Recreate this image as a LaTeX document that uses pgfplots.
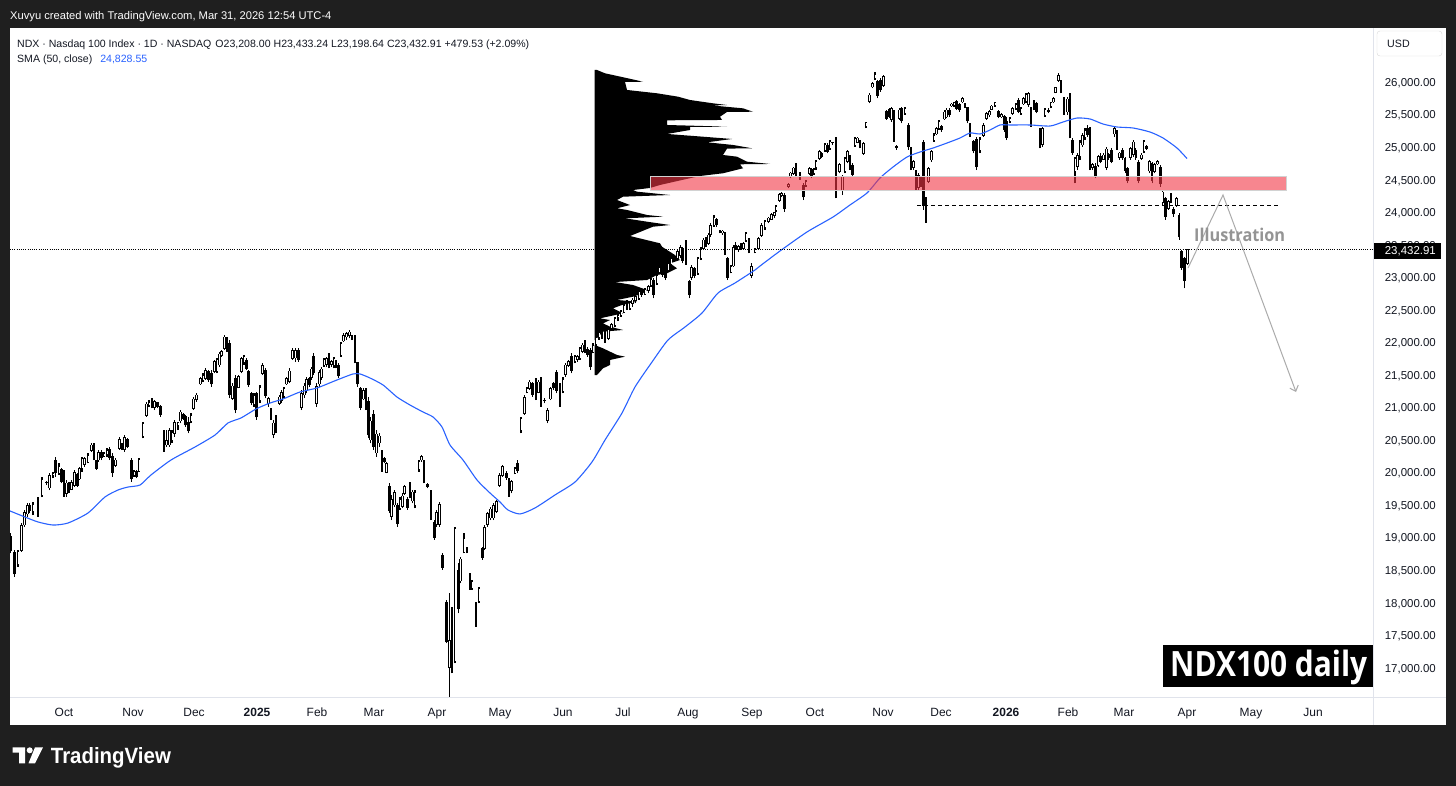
\documentclass[border=0pt]{standalone}
\usepackage{graphicx}
\usepackage{pgfplots}
\pgfplotsset{compat=1.18}
\usepackage{pgfplotstable}
\usepackage{fontspec}
\setmainfont{Liberation Sans}
\newfontfamily\osans{Open Sans}
\usetikzlibrary{arrows.meta}
\definecolor{framebg}{HTML}{1F1F1F}
\definecolor{tvblue}{HTML}{2962FF}
\definecolor{tvred}{HTML}{F23645}
\definecolor{tvtext}{HTML}{131722}
\definecolor{sep}{HTML}{E0E3EB}

\pgfplotstableread{
x o h l c
10.7 19030 19069 18762 18800
14.7 18790 18813 18404 18440
18 18580 18813 18557 18790
21.3 18800 19223 18790 19190
24.7 19190 19428 19172 19400
27.3 19360 19530 19325 19500
29.7 19510 19530 19377 19410
33 19400 19556 19351 19520
38 19610 19633 19325 19350
42 19650 19940 19620 19900
46.3 19840 19870 19810 19850
49.7 19760 19991 19735 19960
53 19960 20017 19914 19990
55.7 20200 20247 19940 19990
59 19990 20145 19966 20100
61.3 20060 20068 19838 19860
64 19990 20043 19633 19680
66.3 19680 19889 19633 19850
69 19840 19863 19684 19710
71.3 19740 19889 19735 19860
74.7 19800 20043 19786 20010
77.3 19980 19991 19786 19800
79.7 19900 20094 19889 20070
82 20060 20247 20017 20230
84.7 20120 20247 20094 20220
88 20160 20299 20145 20270
91.3 20340 20452 20324 20430
94 20430 20452 20196 20230
96.3 20190 20196 20043 20060
98.7 20190 20350 20171 20320
101.3 20320 20350 20196 20220
104 20250 20324 20247 20300
107 20270 20376 20247 20350
109.7 20370 20401 20196 20230
112.3 20260 20299 19940 20000
115.3 20110 20222 20094 20200
119.7 20370 20555 20350 20520
122 20440 20452 20350 20370
124.7 20350 20580 20324 20550
127.3 20520 20529 20376 20400
131.3 20200 20222 19863 19900
134 19960 20043 19940 20020
136.3 20020 20043 19914 19940
139 20020 20222 20017 20200
143 20560 20785 20529 20760
146.3 20870 21093 20862 21060
149 21030 21118 21016 21090
152 21100 21144 20990 21020
154.7 21000 21118 20964 21100
157.3 21080 21093 20990 21010
160.3 21030 21041 20862 20890
164 20640 20657 20324 20360
166.7 20420 20657 20401 20500
169.3 20420 20683 20401 20650
172 20500 20657 20452 20620
174.7 20600 20811 20555 20780
178 20720 20785 20657 20770
180.7 20790 20964 20760 20940
183.7 20900 20913 20811 20830
185.7 20870 20887 20708 20730
188.3 20780 20862 20606 20640
191 20790 20913 20760 20890
193.7 20980 21169 20964 21140
196.7 21120 21221 21093 21200
200.3 21360 21477 21349 21450
203 21410 21528 21400 21500
205.7 21440 21605 21426 21580
208.3 21560 21579 21400 21420
211.3 21540 21579 21323 21360
214.3 21550 21733 21528 21710
217 21560 21758 21528 21740
219.7 21650 21861 21630 21830
221.7 21800 21887 21784 21870
224.3 21900 22117 21887 22090
227 22070 22091 21861 21890
229.7 22000 22040 21144 21200
232.3 21140 21374 21118 21340
235.7 21450 21502 20913 20960
238.7 21300 21502 21297 21480
241.3 21550 21784 21528 21760
244 21690 21810 21656 21790
246.3 21740 21758 21579 21600
248.7 21560 21579 21323 21350
251.3 21220 21246 21041 21070
254 21040 21221 21016 21190
256.7 21220 21246 20811 20850
260 21100 21349 21067 21310
262.7 21520 21682 21502 21650
265.7 21580 21605 21144 21180
268.3 21050 21169 21016 21150
271 20970 20990 20811 20840
273.3 20580 20811 20529 20770
276 20860 20887 20606 20640
279.3 21060 21195 21041 21170
281.7 21100 21272 21067 21240
284 21170 21323 21144 21300
286.7 21360 21477 21349 21450
289.3 21400 21605 21374 21570
292.7 21750 21912 21733 21880
295.3 21760 21912 21707 21880
298.3 21890 21912 21707 21730
301.7 21000 21272 20964 21220
304.3 21190 21374 21144 21340
306.7 21260 21477 21221 21440
309.3 21450 21477 21323 21350
311.7 21460 21630 21426 21600
313.7 21800 21835 21502 21540
316.7 21060 21374 21016 21330
319.3 21360 21579 21323 21550
321.7 21460 21630 21426 21600
324 21650 21758 21630 21740
326.7 21660 21784 21630 21760
329 21810 21835 21605 21640
331.7 21660 21733 21630 21720
334 21640 21784 21605 21760
336 21720 21733 21605 21620
338.3 21660 21682 21451 21480
341 21800 22015 21784 21990
343.7 22020 22143 22015 22120
346.7 22080 22168 22040 22150
349.3 22100 22194 22066 22170
352 22110 22117 22040 22060
355 22090 22117 21682 21720
357.7 21700 21707 21323 21360
360.7 21300 21323 20964 21000
363.3 21130 21297 21118 21270
366 21280 21297 20964 21000
368.3 21100 21169 20529 20580
370.7 20500 20862 20452 20800
373.3 20900 20964 20350 20400
376.7 20300 20657 20247 20600
379.3 20450 20606 20401 20570
382 20320 20350 20017 20060
384.3 20220 20247 20145 20160
386.7 20000 20171 19991 20150
389.3 19800 19838 19377 19420
391.7 19320 19658 19274 19600
394.3 19500 19735 19479 19700
397.3 19500 19530 19172 19220
400 19450 19633 19428 19600
402.3 19480 19684 19454 19650
404.3 19680 19812 19658 19790
407.3 19600 19633 19428 19460
410 19820 19863 19607 19640
412.3 19560 19735 19530 19710
415 19500 19735 19454 19700
419 20050 20196 20017 20170
421.7 20190 20273 20171 20250
424 20170 20196 19838 19880
427.7 19830 19838 19761 19780
431 19720 19735 19274 19320
434.3 19250 19274 18967 19000
436.7 19200 19428 19172 19400
439.3 19200 19556 19172 19520
442.7 18740 18762 18506 18540
446.7 18020 18045 17379 17400
449.3 17000 18147 16560 17430
452 17800 17943 16918 17090
455 17100 19170 17072 19140
458.3 18500 18608 17840 17900
460.7 18330 18711 18301 18680
464 18770 19069 18762 19000
467 18830 18864 18762 18800
470 18440 18455 18199 18240
472 18220 18353 18199 18330
476 17990 18020 17635 17680
479 18020 18250 17994 18230
482.3 18850 18864 18660 18690
484.7 18830 19197 18813 19160
487.3 19200 19402 19172 19380
490.7 19300 19479 19274 19450
493.7 19300 19530 19274 19500
496.7 19400 19582 19380 19560
499.3 19800 19991 19786 19960
502.3 19950 20119 19940 20100
506.7 20000 20020 19889 19920
509 19900 19914 19633 19700
511.7 19720 19889 19684 19870
515 19990 20094 19980 20070
517.7 20150 20196 19991 20020
521 20650 20862 20606 20830
524.3 20900 21195 20888 21160
527 21230 21323 21220 21300
529.3 21290 21426 21272 21400
532.3 21380 21400 21169 21200
536 21420 21451 21118 21150
538.3 21230 21426 21220 21400
541 21450 21477 21016 21060
544.3 21100 21144 21067 21120
547.7 20800 20990 20759 20960
550.7 21130 21323 21118 21300
553.3 21380 21400 21272 21300
556.3 21550 21579 21220 21260
560 21300 21375 21016 21060
563 21250 21477 21220 21440
565.7 21500 21682 21477 21660
568.3 21640 21733 21630 21710
571.7 21800 21835 21528 21570
575 21700 21810 21682 21790
577.3 21730 21810 21707 21790
580 21760 21938 21733 21910
582.3 21860 21989 21835 21970
585 22000 22040 21835 21870
587.7 21900 21938 21784 21810
590.3 21880 21912 21579 21620
593 21840 21989 21835 21960
596 21960 22100 21940 22080
599 22080 22180 22040 22160
602 22160 22200 22060 22100
605 22100 22180 22000 22030
608.3 22060 22219 22040 22200
611.7 22210 22296 22194 22280
615 22260 22399 22245 22380
618 22380 22450 22330 22420
621 22420 22501 22399 22480
624 22460 22604 22450 22580
627 22600 22655 22501 22520
630 22520 22640 22500 22620
632.7 22600 22680 22553 22660
635.3 22640 22732 22604 22710
639 22680 22808 22655 22790
641.7 22800 22834 22706 22730
645 22740 22834 22732 22820
648.3 22800 22885 22757 22870
651 22870 22988 22860 22970
653.7 22960 22988 22680 22730
657 22900 23065 22885 23040
659.7 23070 23167 23065 23150
662.3 23180 23193 23013 23040
665.7 23170 23193 22962 23000
668.3 23100 23244 23090 23220
671 23190 23321 23167 23300
674.3 23300 23346 23269 23320
677.7 23290 23423 23269 23400
680.3 23330 23500 23295 23470
682.7 23460 23474 23218 23260
686 23500 23577 23193 23230
689.3 22940 22962 22680 22730
691.7 22990 23193 22962 23160
694.3 23150 23167 22988 23020
698 23060 23321 23039 23300
701 23290 23474 23269 23450
703.3 23440 23602 23423 23580
706 23600 23628 23474 23500
708.3 23520 23679 23500 23660
710.7 23660 23833 23628 23810
714 23800 23961 23782 23930
716.7 23900 23910 23782 23800
720 23720 23730 23679 23700
722.7 23680 23730 23654 23720
725 23700 23705 23346 23380
727.7 23300 23321 22962 23000
731 23080 23193 23065 23170
733.7 23170 23500 23167 23470
735.7 23500 23551 23423 23440
738.3 23420 23500 23398 23480
741 23510 23526 23423 23440
743.3 23440 23551 23430 23530
746 23560 23705 23551 23680
749 23580 23602 23372 23400
751.7 23030 23218 22988 23180
755 23380 23449 23372 23430
758.3 23440 23628 23423 23600
761.7 23640 23833 23628 23810
765 23760 23884 23730 23860
768.3 23850 23935 23833 23920
771.7 23890 23986 23884 23970
774.3 23950 24012 23910 24000
776 24030 24114 24012 24100
779.3 24180 24294 24166 24280
781.7 24250 24319 24230 24300
784.3 24270 24294 24012 24050
788.3 24390 24447 24371 24430
790.7 24540 24627 24524 24610
793.3 24590 24704 24576 24690
796 24730 24755 24550 24580
800 24600 24627 24499 24520
803.3 24420 24447 24191 24230
806 24410 24499 24396 24480
809.3 24590 24704 24576 24680
811.7 24660 24678 24524 24550
814 24590 24678 24576 24660
816 24680 24806 24652 24790
819.3 24820 24960 24806 24940
821.7 24920 24934 24832 24850
825 24950 25062 24934 25040
827.3 25040 25062 24908 24930
830 24980 25113 24960 25100
832.7 25080 25088 25036 25060
836 25100 25165 24217 24260
839.3 24620 24755 24601 24740
842.3 24330 24576 24268 24560
845 24620 24857 24601 24830
847.3 24780 24960 24755 24940
850 24860 24883 24652 24680
852.7 24730 24755 24550 24580
855 25030 25165 25011 25140
857.3 25070 25165 25062 25150
860 25100 25113 24985 25010
863.3 24900 25088 24883 25060
866 25310 25395 25293 25380
869.3 25700 25830 25677 25810
872.3 25920 26010 25907 25990
875 26050 26163 26035 26120
877.7 26020 26035 25753 25790
880.7 26040 26061 25856 25880
883.3 25950 26112 25933 26090
886.7 25560 25574 25421 25440
889.3 25590 25600 25446 25470
891.7 25420 25625 25395 25600
894 25560 25574 25088 25120
896.7 25020 25036 24960 24990
899.3 25440 25600 25421 25580
901.7 25600 25625 25369 25400
905 25510 25625 25498 25600
908.3 25350 25369 24960 25000
911 24990 25011 24652 24690
913.3 24680 24806 24652 24790
916 24640 24652 24345 24380
918.3 24380 24601 24345 24570
921 24520 24550 24396 24420
923.3 25080 25113 24038 24100
926 24230 24243 23843 24160
928.7 24470 24704 24447 24680
931.3 24800 24960 24780 24940
934 25100 25216 25088 25190
936.7 25200 25318 25190 25300
939 25280 25421 25267 25400
941.7 25330 25344 25241 25260
944.3 25430 25574 25421 25550
946.7 25460 25600 25446 25580
949.3 25580 25600 25472 25490
951.7 25630 25677 25625 25670
954 25640 25702 25625 25690
956.7 25710 25728 25574 25590
959.3 25660 25677 25549 25570
962.3 25690 25779 25677 25760
965 25670 25677 25600 25610
967.7 25620 25625 25369 25400
970 25360 25369 25165 25190
973.3 25100 25113 24908 24940
976.7 25130 25165 24652 24700
980 24950 25165 24908 25130
983.3 25180 25369 25165 25340
986.7 25440 25549 25421 25530
989.3 25490 25574 25472 25560
991.7 25580 25651 25574 25640
995 25640 25702 25625 25690
998.3 25560 25574 25446 25470
1001.7 25460 25523 25446 25510
1004.3 25480 25498 25241 25270
1006.7 25400 25472 25113 25150
1010 25390 25472 25369 25450
1012.7 25520 25625 25498 25600
1016 25590 25677 25574 25660
1018.3 25730 25753 25523 25550
1021 25520 25625 25498 25600
1023.3 25660 25779 25651 25760
1026 25700 25830 25677 25810
1028.7 25650 25856 25625 25830
1031 25600 25625 25318 25350
1034 25710 25728 25574 25600
1036.7 25680 25702 25523 25540
1040 25270 25293 24985 25020
1042.7 25040 25318 25011 25290
1045 25480 25600 25472 25580
1048.3 25580 25600 25523 25540
1051 25620 25702 25600 25690
1053.3 25690 25779 25677 25760
1055.3 25840 25933 25830 25920
1058.3 26020 26138 26010 26110
1061 26020 26035 25830 25860
1064 25760 25779 25498 25530
1067.3 25540 25779 25498 25750
1070 25800 25830 25139 25190
1072.7 25120 25139 24883 24920
1075 24630 24857 24447 24830
1077.7 24700 24908 24652 24880
1080 24850 25113 24806 25080
1082.7 25030 25216 25011 25190
1085 25150 25293 25113 25270
1087.3 25300 25344 25165 25190
1090 25230 25318 24652 24700
1092.7 24680 24755 24652 24740
1095.4 24720 24755 24524 24560
1098.1 24720 24883 24704 24860
1100.8 24870 24908 24755 24780
1103.5 24810 24908 24806 24890
1106.2 24690 25011 24652 24980
1108.9 24900 24908 24806 24830
1111.6 24960 24985 24755 24780
1114.3 25200 25318 25165 25300
1117 25250 25267 24960 25000
1119.7 24840 24934 24806 24920
1122.4 24960 24985 24806 24830
1125.1 24830 24857 24601 24640
1127.8 24680 24704 24447 24490
1130.5 24840 25011 24806 24990
1133.2 24880 25113 24857 25090
1135.9 24960 24985 24806 24830
1138.6 24780 24806 24447 24490
1141.3 24820 24908 24806 24890
1144 24930 25113 24908 25090
1146.7 25020 25036 24960 24980
1149.4 24630 24806 24601 24790
1152.1 24760 24781 24447 24480
1154.8 24620 24755 24601 24740
1157.5 24740 24806 24730 24790
1160.2 24700 24729 24396 24430
1162.9 24150 24345 24114 24320
1165.6 24220 24243 23884 23930
1168.3 24050 24191 24038 24170
1171 24270 24294 24140 24170
1173.7 24060 24088 23935 23970
1176.4 24100 24243 24088 24220
1179.1 23960 23986 23577 23620
1181.8 23400 23423 23116 23150
1184.5 23300 23321 22834 22953
1187.2 23208 23433 23199 23433
}\candles

\begin{document}
\begin{tikzpicture}[x=1bp,y=1bp]
\useasboundingbox (0bp,0bp) rectangle (1456bp,786bp);
\fill[framebg] (0bp,0bp) rectangle (1456bp,786bp);
\fill[white] (10bp,61bp) rectangle (1446bp,758bp);
\begin{axis}[
  at={(10bp,88bp)}, anchor=south west,
  width=1363bp, height=670bp, scale only axis,
  xmin=10, xmax=1373, ymin=16539.1, ymax=26834.4,
  scaled y ticks=false, scaled x ticks=false,
  axis line style={draw=none},
  major tick length=0pt, tick style={draw=none},
  ytick={17000,17500,18000,18500,19000,19500,20000,20500,21000,21500,22000,22500,23000,23500,24000,24500,25000,25500,26000},
  yticklabels={{17,000.00},{17,500.00},{18,000.00},{18,500.00},{19,000.00},{19,500.00},{20,000.00},{20,500.00},{21,000.00},{21,500.00},{22,000.00},{22,500.00},{23,000.00},{23,500.00},{24,000.00},{24,500.00},{25,000.00},{25,500.00},{26,000.00}},
  yticklabel pos=right,
  yticklabel style={anchor=base east, xshift=63bp, yshift=-4.15bp, inner sep=0pt, font=\fontsize{11.5}{13}\selectfont, text=tvtext},
  xtick={64,133,194,257,317,374,437,500,563,623,688,752,815,883,941,1006,1068,1124,1187,1251,1313},
  xticklabels={Oct,Nov,Dec,\textbf{2025},Feb,Mar,Apr,May,Jun,Jul,Aug,Sep,Oct,Nov,Dec,\textbf{2026},Feb,Mar,Apr,May,Jun},
  xticklabel style={anchor=base, yshift=-18.7bp, inner sep=0pt, font=\fontsize{12}{14}\selectfont, text=tvtext},
]
% volume profile (sawtooth outline)
\addplot[fill=black, draw=none] coordinates {(594.7,26189) (597,26189) (605,26138) (625,26071) (643,26009) (625,26005) (627,25882) (657,25831) (678,25779) (690,25728) (713,25677) (727,25651) (712,25644) (743,25600) (753,25548) (727,25544) (720,25471) (722,25421) (667,25416) (667,25344) (727,25318) (690,25313) (690,25267) (667,25206) (703,25164) (732,25129) (707,25078) (733,25037) (752,24986) (727,24981) (723,24883) (737,24857) (747,24780) (770,24745) (740,24740) (743,24679) (723,24602) (700,24560) (682,24499) (660,24422) (650,24376) (633,24345) (637,24319) (670,24268) (623,24242) (617,24191) (630,24114) (617,24064) (627,24038) (647,23961) (663,23935) (625,23910) (647,23858) (670,23807) (653,23781) (630,23638) (660,23526) (662,23474) (667,23423) (675,23346) (680,23269) (670,23218) (677,23142) (667,23065) (657,23039) (647,22962) (615,22931) (633,22885) (647,22808) (643,22757) (633,22705) (617,22655) (637,22629) (622,22578) (613,22527) (623,22450) (600,22373) (610,22347) (603,22296) (610,22245) (623,22194) (603,22168) (600,22117) (595,22040) (594.7,22040)};
\addplot[fill=black, draw=none] coordinates {(594.7,21963) (603,21912) (617,21810) (625,21784) (610,21733) (610,21656) (603,21605) (597,21502) (594.7,21502)};
% candles: wicks
\addplot[draw=none, mark=none, error bars/.cd, y dir=plus, y explicit, error mark=none, error bar style={line width=1.1bp, line cap=butt, draw=black, solid}]
  table[x=x, y=l, y error plus expr={\thisrow{h}-\thisrow{l}}] {\candles};
% bodies
\addplot[draw=none, mark=none, error bars/.cd, y dir=plus, y explicit, error mark=none, error bar style={line width=2.7bp, line cap=butt, draw=black, solid}]
  table[x=x, y expr={min(\thisrow{o},\thisrow{c})}, y error plus expr={max(abs(\thisrow{c}-\thisrow{o}),15)}] {\candles};
% hollow interior for up candles
\addplot[draw=none, mark=none, error bars/.cd, y dir=plus, y explicit, error mark=none, error bar style={line width=1.0bp, line cap=butt, draw=white, solid}]
  table[x=x, y expr={\thisrow{o}+11}, y error plus expr={max(\thisrow{c}-\thisrow{o}-22,0)}] {\candles};
% SMA 50
\addplot[tvblue, line width=1.1bp, smooth, tension=0.4] coordinates {(10,19413) (25,19320) (38,19244) (53,19197) (68,19228) (88,19382) (105,19628) (118,19735) (128,19781) (140,19812) (151,19966) (171,20196) (195,20396) (215,20580) (228,20765) (241,20842) (256,20980) (270,21072) (283,21134) (300,21241) (317,21303) (337,21426) (353,21518) (360,21518) (370,21456) (383,21349) (397,21164) (410,21041) (423,20934) (433,20857) (442,20703) (450,20427) (463,20196) (477,19889) (490,19689) (500,19551) (508,19428) (520,19367) (535,19459) (555,19659) (575,19858) (592,20166) (605,20503) (622,20918) (635,21318) (652,21702) (668,22040) (685,22240) (702,22455) (718,22762) (735,22916) (755,23116) (760,23177) (780,23408) (807,23700) (833,23930) (850,24115) (867,24299) (880,24530) (893,24698) (907,24852) (920,24929) (933,24990) (947,25067) (960,25144) (970,25221) (980,25206) (990,25267) (1000,25344) (1010,25344) (1030,25344) (1050,25328) (1063,25390) (1077,25451) (1090,25436) (1103,25359) (1117,25313) (1133,25298) (1150,25236) (1163,25144) (1177,24990) (1187,24828.55)};
% current price dotted line
\addplot[black, line width=0.7bp, dash pattern=on 1bp off 1.2bp] coordinates {(10,23432.91) (1373,23432.91)};
% red zone
\addplot[fill=tvred, fill opacity=0.6, draw=gray!35, line width=0.8bp] coordinates {(650,24345) (1286,24345) (1286,24560) (650,24560) (650,24345)};
% dashed level
\addplot[black, line width=1bp, dash pattern=on 4bp off 3bp] coordinates {(917,24104) (1280,24104)};
% illustration path
\addplot[black!33, line width=1bp, -{Straight Barb[length=5bp,width=9bp]}] coordinates {(1188,23146) (1223,24268) (1296,21241)};
\end{axis}
% separators
\draw[sep, line width=1bp] (1373bp,61bp) -- (1373bp,758bp);
\draw[sep, line width=1bp] (10bp,88bp) -- (1446bp,88bp);
% price label box
\fill[black] (1374bp,527.3bp) rectangle (1441bp,543.3bp);
\node[anchor=base east, inner sep=0pt, text=white, font=\fontsize{11.5}{13}\selectfont] at (1436bp,531bp) {23,432.91};
% USD box
\draw[gray!30, fill=white, rounded corners=3bp] (1377bp,730bp) rectangle (1442bp,755bp);
\node[anchor=base west, inner sep=0pt, text=tvtext, font=\fontsize{10.7}{13}\selectfont] at (1387bp,738bp) {USD};
% header
\node[anchor=base west, inner sep=0pt, text=white, font=\fontsize{11.2}{13}\selectfont] at (10bp,766.7bp) {Xuvyu created with TradingView.com, Mar 31, 2026 12:54 UTC-4};
\node[anchor=base west, inner sep=0pt, text=tvtext, font=\fontsize{10.6}{13}\selectfont] at (17bp,738.3bp) {NDX · Nasdaq 100 Index · 1D · NASDAQ\hspace{4bp}O23,208.00\hspace{3bp}H23,433.24\hspace{3bp}L23,198.64\hspace{3bp}C23,432.91\hspace{3bp}+479.53 (+2.09\%)};
\node[anchor=base west, inner sep=0pt, text=tvtext, font=\fontsize{10.6}{13}\selectfont] at (17bp,723bp) {SMA (50, close)\hspace{8bp}\textcolor{tvblue}{24,828.55}};
% illustration text
\node[anchor=base west, inner sep=0pt, text=black!42] at (1194bp,544.3bp) {\resizebox{91bp}{13.4bp}{\osans\bfseries Illustration}};
% NDX100 daily box
\fill[black] (1163bp,99bp) rectangle (1373bp,141bp);
\node[anchor=base west, inner sep=0pt, text=white] at (1170bp,109.3bp) {\resizebox{197bp}{26.5bp}{\osans\bfseries NDX100 daily}};
% TradingView logo
\fill[white] (12.7bp,38.7bp) -- (25bp,38.7bp) -- (25bp,22.7bp) -- (19bp,22.7bp) -- (19bp,33.3bp) -- (12.7bp,33.3bp) -- cycle;
\fill[white] (29.7bp,35.7bp) circle (3bp);
\fill[white] (35bp,38.7bp) -- (43bp,38.7bp) -- (35bp,22.7bp) -- (28.5bp,22.7bp) -- cycle;
\node[anchor=base west, inner sep=0pt, text=white] at (50.7bp,22.7bp) {\resizebox{120bp}{16bp}{\bfseries TradingView}};
\end{tikzpicture}
\end{document}
